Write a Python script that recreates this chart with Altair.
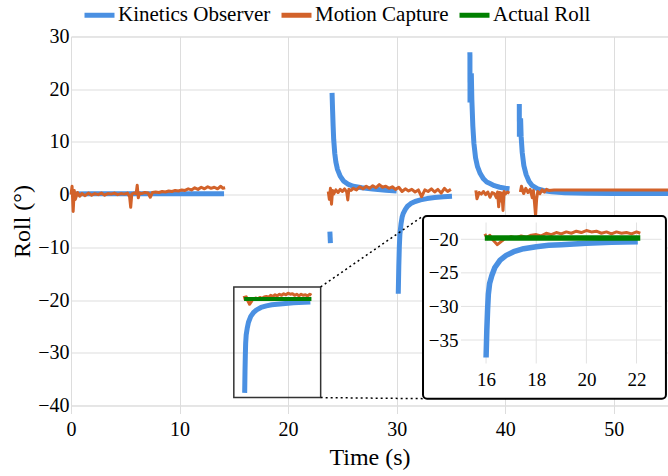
import altair as alt
import pandas as pd

# ---------------- data ----------------
SERIES = ["Kinetics Observer", "Motion Capture", "Actual Roll"]
COLORS = ["#4a90e2", "#d2622a", "#008000"]

# Kinetics Observer (blue)
KO_1_t = [0.0, 2.0, 4.0, 6.0, 8.0, 10.0, 12.0, 14.1]
KO_1_v = [0.1, 0.15, 0.15, 0.15, 0.15, 0.15, 0.15, 0.15]
KO_2_t = [23.85, 23.9]
KO_2_v = [-7.0, -9.2]
KO_3_t = [24.05, 24.1, 24.15, 24.2, 24.3, 24.4, 24.55, 24.8, 25.1, 25.5, 26.0, 26.8, 27.8, 29.0, 30.0]
KO_3_v = [19.3, 16.0, 13.0, 10.5, 7.8, 6.2, 4.8, 3.5, 2.6, 2.0, 1.6, 1.3, 1.05, 0.85, 0.7]
KO_4_t = [30.15, 30.2, 30.25, 30.3, 30.4, 30.5, 30.6, 30.8, 31.0, 31.3, 31.7, 32.2, 32.8, 33.5, 34.3, 35.1]
KO_4_v = [-18.8, -13.5, -9.8, -7.5, -5.6, -4.3, -3.6, -2.8, -2.2, -1.7, -1.3, -1.0, -0.75, -0.55, -0.4, -0.3]
KO_5a_t = [36.75, 36.76]
KO_5a_v = [27.0, 17.5]
KO_5b_t = [36.88, 36.93, 37.02, 37.12, 37.27, 37.45, 37.7, 38.0, 38.3, 38.6, 39.0, 39.5, 40.0, 40.4]
KO_5b_v = [23.0, 18.0, 13.0, 9.7, 7.0, 5.3, 4.0, 3.0, 2.4, 2.1, 1.7, 1.4, 1.2, 1.1]
KO_6a_t = [41.3, 41.31]
KO_6a_v = [17.2, 11.0]
KO_6b_t = [41.42, 41.47, 41.57, 41.72, 41.93, 42.2, 42.5, 43.0, 43.6, 44.3, 45.5, 47.5, 50.0, 55.0]
KO_6b_v = [14.5, 11.0, 8.0, 5.5, 3.8, 2.5, 1.7, 1.1, 0.75, 0.55, 0.35, 0.25, 0.2, 0.2]
KO_7_t = [16.0, 16.03, 16.06, 16.09, 16.14, 16.23, 16.35, 16.56, 16.8, 17.1, 17.5, 18.0,
          18.5, 19.0, 19.5, 20.0, 20.5, 21.0, 21.5, 22.05]
KO_7_v = [-37.6, -33.5, -30.5, -28.2, -26.6, -25.4, -24.2, -23.1, -22.4, -21.85, -21.4, -21.1,
          -20.9, -20.8, -20.7, -20.6, -20.5, -20.45, -20.4, -20.35]

# Motion Capture (orange, noisy)
MC_A_t = [0.0, 0.1, 0.2, 0.3, 0.4, 0.6, 0.8, 1.0, 1.3, 1.6, 1.9, 2.2, 2.5, 2.8, 3.1, 3.4, 3.7,
          4.0, 4.3, 4.6, 4.9, 5.2, 5.4, 5.5, 5.6, 5.8, 6.0, 6.1, 6.2, 6.3, 6.5, 6.8, 7.1, 7.3,
          7.5, 7.8, 8.1, 8.4, 8.7, 9.0, 9.3, 9.6, 9.9, 10.2, 10.5, 10.8, 11.1, 11.4, 11.7, 12.0,
          12.3, 12.6, 12.9, 13.2, 13.5, 13.8, 14.0, 14.2]
MC_A_v = [0.0, 1.6, -3.2, 0.8, -0.9, 0.4, -0.3, 0.2, -0.2, 0.3, -0.1, 0.2, 0.0, 0.3, -0.1, 0.2,
          0.1, 0.3, 0.0, 0.2, 0.1, 0.3, -0.4, -2.4, 0.1, 0.3, 0.2, 1.8, -0.6, 0.3, 0.2, 0.4, 0.3,
          -0.5, 0.4, 0.5, 0.4, 0.6, 0.5, 0.7, 0.6, 0.8, 0.7, 0.9, 0.8, 1.1, 0.9, 1.3, 1.0, 1.4,
          1.1, 1.5, 1.2, 1.4, 1.1, 1.6, 1.2, 1.3]
MC_B_t = [23.7, 23.8, 23.9, 24.0, 24.1, 24.2, 24.4, 24.6, 24.8, 25.0, 25.2, 25.4, 25.5, 25.6,
          25.8, 26.0, 26.3, 26.6, 26.9, 27.2, 27.5, 27.8, 28.1, 28.4, 28.7, 29.0, 29.3, 29.6,
          29.9, 30.2, 30.5, 30.8, 31.1, 31.4, 31.7, 32.0, 32.3, 32.6, 32.9, 33.2, 33.5, 33.8,
          34.1, 34.4, 34.7, 35.0]
MC_B_v = [0.6, -0.9, 1.2, -1.8, 0.8, 0.1, 0.9, 0.4, 1.0, 0.6, 1.1, 0.5, -1.0, 1.0, 0.8, 1.2,
          0.9, 1.5, 1.1, 1.6, 1.2, 1.7, 1.3, 1.9, 1.4, 1.6, 1.2, 1.5, 1.0, 1.4, 0.6, 1.1, 0.7,
          1.0, 0.5, 0.9, -0.4, 0.9, 0.6, 1.1, 0.5, 1.0, 0.3, 1.2, 0.6, 1.0]
MC_C_t = [37.3, 37.4, 37.6, 37.8, 38.0, 38.2, 38.4, 38.6, 38.8, 39.0, 39.2, 39.3, 39.4, 39.5,
          39.6, 39.7, 39.8, 39.9, 40.0, 40.2, 40.4]
MC_C_v = [0.8, -0.8, 0.4, 0.1, 0.6, 0.0, 0.5, -0.5, 0.4, 0.2, -0.6, 0.5, -2.3, 0.4, -1.2, 0.3,
          -3.0, 0.6, 0.1, 0.5, 0.3]
MC_D_t = [41.4, 41.5, 41.7, 41.9, 42.1, 42.3, 42.5, 42.6, 42.7, 42.8, 42.9, 43.0, 43.2, 43.4,
          43.6, 43.8, 44.0, 44.5, 45.0, 46.0, 48.0, 50.0, 52.0, 54.0, 55.0]
MC_D_v = [0.5, 1.6, 0.2, 1.2, 0.4, 1.0, -0.6, 0.8, -1.5, -4.0, -0.8, 0.6, 0.2, 0.9, 0.5, 1.0,
          0.8, 0.9, 0.9, 0.9, 0.9, 0.9, 0.9, 0.9, 0.9]
MC_E_t = [15.95, 16.05, 16.15, 16.25, 16.35, 16.45, 16.55, 16.65, 16.75, 16.85, 17.0, 17.2,
          17.4, 17.6, 17.8, 18.0, 18.2, 18.4, 18.6, 18.8, 19.0, 19.2, 19.4, 19.6, 19.8, 20.0,
          20.2, 20.4, 20.6, 20.8, 21.0, 21.2, 21.4, 21.6, 21.8, 22.0, 22.15]
MC_E_v = [-19.2, -19.9, -19.4, -20.0, -20.4, -20.8, -20.5, -20.2, -19.8, -19.9, -19.6, -19.8,
          -19.5, -19.7, -19.4, -19.3, -19.5, -19.1, -19.3, -19.0, -19.2, -18.9, -19.1, -18.8,
          -19.0, -18.7, -18.9, -18.8, -19.1, -18.9, -19.2, -18.9, -19.1, -19.0, -19.2, -18.9,
          -19.1]

# Actual Roll (green)
AR_t = [15.95, 22.15]
AR_v = [-19.8, -19.8]

# ticks
MAIN_X_TICKS = [0, 10, 20, 30, 40, 50]
MAIN_Y_TICKS = [-40, -30, -20, -10, 0, 10, 20, 30]
INSET_X_TICKS = [16, 18, 20, 22]
INSET_Y_TICKS = [-20, -25, -30, -35]

# zoom window (data units) and inset placement (main-data units / pixels)
ZOOM_X = [15, 23]
ZOOM_Y = [-38.5, -17.5]
FRAME_X = [32.43, 54.81]
FRAME_Y = [-38.7, -4.06]
INSET_X_PX = [390.0, 590.6]
INSET_Y_PX = [327.0, 186.0]

FONT = "Liberation Serif"
GRID = "#dddddd"

# ---------------- tables ----------------
def table(series, segs):
    rows = []
    i = 0
    for seg, (ts, vs) in segs.items():
        for t, v in zip(ts, vs):
            rows.append({"series": series, "seg": seg, "t": t, "v": v, "i": i})
            i += 1
    return pd.DataFrame(rows)

ko_main = table(SERIES[0], {"1": (KO_1_t, KO_1_v), "2": (KO_2_t, KO_2_v), "3": (KO_3_t, KO_3_v),
                            "4": (KO_4_t, KO_4_v), "5a": (KO_5a_t, KO_5a_v), "5b": (KO_5b_t, KO_5b_v),
                            "6a": (KO_6a_t, KO_6a_v), "6b": (KO_6b_t, KO_6b_v), "7": (KO_7_t, KO_7_v)})
mc_main = table(SERIES[1], {"A": (MC_A_t, MC_A_v), "B": (MC_B_t, MC_B_v), "C": (MC_C_t, MC_C_v),
                            "D": (MC_D_t, MC_D_v), "E": (MC_E_t, MC_E_v)})
ar_main = table(SERIES[2], {"G": (AR_t, AR_v)})
ko_in = table(SERIES[0], {"7": (KO_7_t, KO_7_v)})
mc_in = table(SERIES[1], {"E": (MC_E_t, MC_E_v)})
ar_in = table(SERIES[2], {"G": (AR_t, AR_v)})

# ---------------- scales / axes ----------------
x_main = alt.Scale(domain=[0, 55], nice=False, zero=False)
y_main = alt.Scale(domain=[-40, 30], nice=False, zero=False)
ax_x = alt.Axis(values=MAIN_X_TICKS, title="Time (s)", grid=True, gridColor=GRID, domain=False,
                tickColor=GRID, tickSize=8, labelFont=FONT, labelFontSize=20, labelColor="black",
                labelPadding=6, labelFlush=False, titleFont=FONT, titleFontSize=24,
                titleFontWeight="normal", titleColor="black", titlePadding=6)
ax_y = alt.Axis(values=MAIN_Y_TICKS, title="Roll (°)", grid=True, gridColor=GRID, domain=False,
                ticks=False, labelFont=FONT, labelFontSize=20, labelColor="black", labelPadding=2,
                labelFlush=False, titleFont=FONT, titleFontSize=24, titleFontWeight="normal",
                titleColor="black", titlePadding=3)

color = alt.Color("series:N", scale=alt.Scale(domain=SERIES, range=COLORS),
                  legend=alt.Legend(orient="none", legendX=11, legendY=-39, direction="horizontal",
                                    title=None, labelFont=FONT, labelFontSize=21, labelColor="black",
                                    symbolType="stroke", symbolSize=900, symbolStrokeWidth=5,
                                    columnPadding=0, labelOffset=1))

def main_line(df, w):
    return alt.Chart(df).mark_line(strokeWidth=w, strokeJoin="round").encode(
        x=alt.X("t:Q", scale=x_main, axis=ax_x),
        y=alt.Y("v:Q", scale=y_main, axis=ax_y),
        color=color, detail="seg:N", order="i:Q")

box = alt.Chart(pd.DataFrame({"x1": [ZOOM_X[0]], "x2": [ZOOM_X[1]], "y1": [ZOOM_Y[0]], "y2": [ZOOM_Y[1]]})
                ).mark_rect(fillOpacity=0, stroke="#333333", strokeWidth=1.5).encode(
    x=alt.X("x1:Q", scale=x_main, axis=ax_x), x2="x2:Q",
    y=alt.Y("y1:Q", scale=y_main, axis=ax_y), y2="y2:Q")

connectors = alt.Chart(pd.DataFrame({
    "x1": [ZOOM_X[1], ZOOM_X[1]], "y1": [ZOOM_Y[1], ZOOM_Y[0]],
    "x2": [FRAME_X[0], FRAME_X[0]], "y2": [FRAME_Y[1], FRAME_Y[0]]})
).mark_rule(stroke="black", strokeWidth=1.5, strokeDash=[2, 3]).encode(
    x=alt.X("x1:Q", scale=x_main, axis=ax_x), x2="x2:Q",
    y=alt.Y("y1:Q", scale=y_main, axis=ax_y), y2="y2:Q")

frame = alt.Chart(pd.DataFrame({"x1": [FRAME_X[0]], "x2": [FRAME_X[1]], "y1": [FRAME_Y[0]], "y2": [FRAME_Y[1]]})
                  ).mark_rect(fill="white", stroke="black", strokeWidth=2, cornerRadius=4).encode(
    x=alt.X("x1:Q", scale=x_main, axis=ax_x), x2="x2:Q",
    y=alt.Y("y1:Q", scale=y_main, axis=ax_y), y2="y2:Q")

main = alt.layer(main_line(ko_main, 5), main_line(mc_main, 3), main_line(ar_main, 4),
                 box, connectors, frame)

# ---------------- inset ----------------
x_in = alt.Scale(domain=ZOOM_X, range=INSET_X_PX, nice=False, zero=False)
y_in = alt.Scale(domain=ZOOM_Y, range=INSET_Y_PX, nice=False, zero=False)
ax_xi = alt.Axis(values=INSET_X_TICKS, orient="bottom", offset=-38.5, grid=False, domain=False,
                 ticks=False, labelFont=FONT, labelFontSize=19, labelColor="black", labelPadding=3,
                 labelFlush=False, title=None, zindex=1)
ax_yi = alt.Axis(values=INSET_Y_TICKS, orient="left", offset=-390, grid=False, domain=False,
                 ticks=False, labelFont=FONT, labelFontSize=19, labelColor="black", labelPadding=3,
                 labelFlush=False, title=None, zindex=1)

grid_v = alt.Chart(pd.DataFrame({"t": INSET_X_TICKS})).mark_rule(stroke="#e2e2e2", strokeWidth=1).encode(
    x=alt.X("t:Q", scale=x_in, axis=ax_xi),
    y=alt.Y(datum=ZOOM_Y[0], scale=y_in, axis=ax_yi), y2=alt.Y2(datum=ZOOM_Y[1]))
grid_h = alt.Chart(pd.DataFrame({"v": INSET_Y_TICKS})).mark_rule(stroke="#e2e2e2", strokeWidth=1).encode(
    y=alt.Y("v:Q", scale=y_in, axis=ax_yi),
    x=alt.X(datum=ZOOM_X[0], scale=x_in, axis=ax_xi), x2=alt.X2(datum=ZOOM_X[1]))

def inset_line(df, w):
    return alt.Chart(df).mark_line(strokeWidth=w, strokeJoin="round").encode(
        x=alt.X("t:Q", scale=x_in, axis=ax_xi),
        y=alt.Y("v:Q", scale=y_in, axis=ax_yi),
        color=color, detail="seg:N", order="i:Q")

inset = alt.layer(grid_v, grid_h, inset_line(ko_in, 5.5), inset_line(mc_in, 3), inset_line(ar_in, 5.5))

chart = alt.layer(main, inset).resolve_scale(x="independent", y="independent").properties(
    width=597, height=369,
    autosize=alt.AutoSizeParams(type="none"),
    padding={"left": 71, "top": 36.5, "right": 0, "bottom": 70.5},
).configure_view(stroke=None).configure(
    font=FONT,
    style={"guide-label": {"font": FONT}, "guide-title": {"font": FONT}},
).configure_axis(labelFont=FONT, titleFont=FONT).configure_legend(labelFont=FONT)

chart.save("out.html", embed_options={"renderer": "svg", "actions": False})
